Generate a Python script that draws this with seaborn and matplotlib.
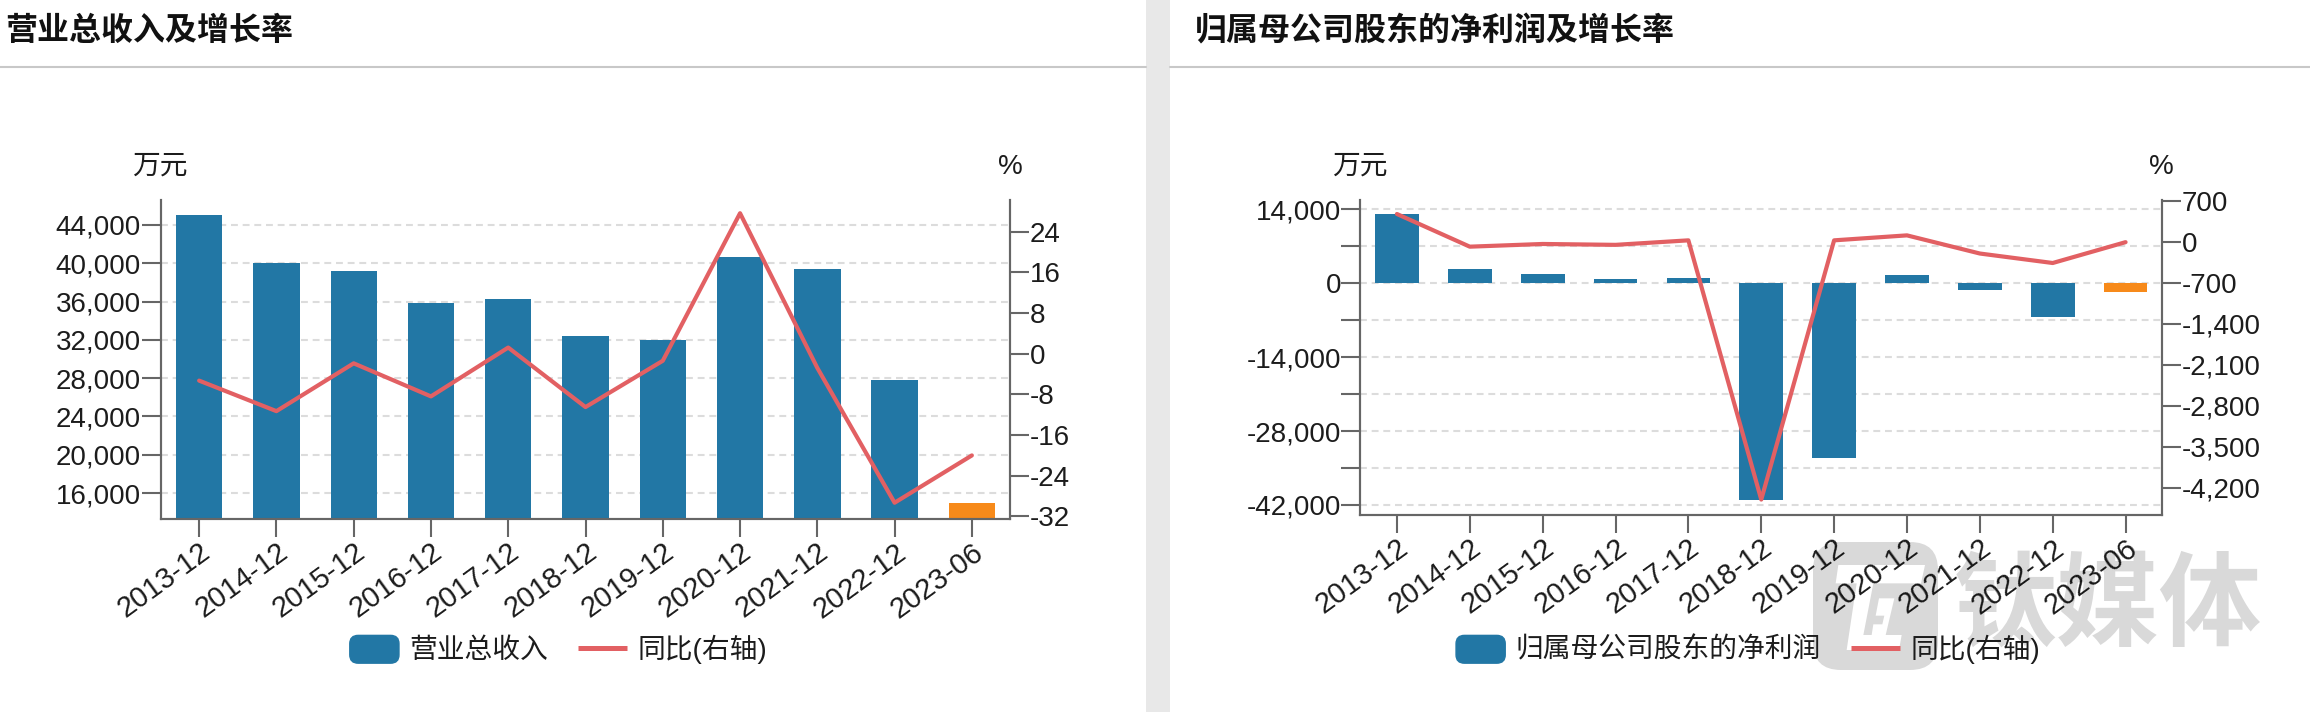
import numpy as np
import seaborn as sns
import matplotlib
matplotlib.use("Agg")
import matplotlib.pyplot as plt
from matplotlib.legend_handler import HandlerPatch
from matplotlib.lines import Line2D
from matplotlib.patches import BoxStyle, FancyBboxPatch, PathPatch, Rectangle
from matplotlib.path import Path
from matplotlib.transforms import Affine2D

W, H = 2310, 712

periods = ["2013-12", "2014-12", "2015-12", "2016-12", "2017-12", "2018-12",
           "2019-12", "2020-12", "2021-12", "2022-12", "2023-06"]

revenue = [45090, 40000, 39150, 35830, 36260, 32380, 31950, 40620, 39390, 27830, 14950]
revenue_yoy = [-5.3, -11.3, -1.9, -8.4, 1.2, -10.5, -1.4, 27.6, -2.8, -29.3, -20.0]
revenue_ticks = [16000, 20000, 24000, 28000, 32000, 36000, 40000, 44000]
revenue_yoy_ticks = [-32, -24, -16, -8, 0, 8, 16, 24]

profit = [13055, 2660, 1720, 860, 1030, -40970, -33150, 1460, -1370, -6440, -1720]
profit_yoy = [477, -81, -35, -50, 27, -4400, 27, 112, -198, -360, -4]
profit_ticks = [-42000, -35000, -28000, -21000, -14000, -7000, 0, 7000, 14000]
profit_labels = ["-42,000", "", "-28,000", "", "-14,000", "", "0", "", "14,000"]
profit_yoy_ticks = [-4200, -3500, -2800, -2100, -1400, -700, 0, 700]

BLUE = "#2277a5"
ORANGE = "#f78a1a"
RED = "#e26063"
AXIS = "#666666"
TEXT = "#1c1c1c"

sns.set_theme(style="white")
plt.rcParams["font.family"] = ["Liberation Sans", "Noto Sans CJK SC", "DejaVu Sans"]
plt.rcParams["axes.unicode_minus"] = False

fig = plt.figure(figsize=(W / 100, H / 100), dpi=100, facecolor="white")
px = Affine2D().scale(1 / W, -1 / H).translate(0, 1) + fig.transFigure


def make_round_handle(legend, orig_handle, xdescent, ydescent, width, height, fontsize):
    return FancyBboxPatch((-xdescent, -ydescent - 4), width, 20, mutation_scale=1,
                          boxstyle="round,pad=0,rounding_size=6")


def draw_panel(box, left_lim, right_lim, bars, yoy, left_ticks, left_labels, right_ticks,
               bar_name, legend_x, unit_x, pct_x):
    x0, y0, x1, y1 = box
    ax = fig.add_axes([x0 / W, 1 - y1 / H, (x1 - x0) / W, (y1 - y0) / H])

    colors = [BLUE] * (len(periods) - 1) + [ORANGE]
    sns.barplot(x=periods, y=bars, hue=periods, palette=colors, legend=False,
                width=0.6, saturation=1, linewidth=0, dodge=False, ax=ax)
    ax.set_ylim(*left_lim)
    ax.set_yticks(left_ticks)
    ax.set_yticklabels(left_labels)
    ax.set_axisbelow(True)
    ax.grid(axis="y", color="#dcdcdc", linewidth=1.5, linestyle=(0, (3.3, 2.3)))
    ax.grid(axis="x", visible=False)

    ax2 = ax.twinx()
    sns.lineplot(x=np.arange(len(periods)), y=yoy, color=RED, linewidth=3, ax=ax2)
    ax.set_xlim(-0.5, len(periods) - 0.5)
    ax2.set_ylim(*right_lim)
    ax2.set_yticks(right_ticks)
    ax2.set_yticklabels([f"{v:,}" for v in right_ticks])
    ax2.grid(False)

    for a in (ax, ax2):
        for name in ("left", "right", "bottom"):
            a.spines[name].set_color(AXIS)
            a.spines[name].set_linewidth(1.5)
        a.spines["top"].set_visible(False)
    ax.tick_params(axis="y", length=14, width=1.5, color=AXIS, pad=0, labelsize=20,
                   labelcolor=TEXT, left=True)
    ax2.tick_params(axis="y", length=14, width=1.5, color=AXIS, pad=0, labelsize=20,
                    labelcolor=TEXT, right=True)
    ax.tick_params(axis="x", length=13, width=1.5, color=AXIS, pad=1, labelsize=21,
                   labelcolor=TEXT, bottom=True)
    plt.setp(ax.get_xticklabels(), rotation=36, ha="right", va="top", rotation_mode="anchor")
    ax.set_xlabel("")

    fig.text(unit_x, 167, "万元", transform=px, fontsize=20, color=TEXT, ha="center", va="center")
    fig.text(pct_x, 167, "%", transform=px, fontsize=20, color=TEXT, ha="center", va="center")

    handles = [Rectangle((0, 0), 1, 1, color=BLUE),
               Line2D([0], [0], color=RED, linewidth=3.6, solid_capstyle="butt")]
    fig.legend(handles, [bar_name, "同比(右轴)"], ncol=2, frameon=False, fontsize=20,
               loc="center", bbox_to_anchor=(legend_x, 649), bbox_transform=px,
               labelcolor=TEXT, borderpad=0, borderaxespad=0, handlelength=1.77,
               handletextpad=0.37, columnspacing=1.08,
               handler_map={Rectangle: HandlerPatch(patch_func=make_round_handle)})


draw_panel((160.5, 200, 1010.5, 518.5), (13347, 46606), (-32.4, 30.2),
           revenue, revenue_yoy, revenue_ticks, [f"{v:,}" for v in revenue_ticks],
           revenue_yoy_ticks, "营业总收入", 558.5, 160, 1010)
draw_panel((1360.5, 200, 2162, 514.5), (-43800, 15720), (-4655, 716),
           profit, profit_yoy, profit_ticks, profit_labels,
           profit_yoy_ticks, "归属母公司股东的净利润", 1748, 1360, 2161)

# page furniture: header rules, grey gutter, titles
for start, end in ((0, 1146), (1170, W)):
    fig.add_artist(Line2D([start, end], [67, 67], transform=px, color="#c8c8c8", linewidth=1.5))
fig.add_artist(Rectangle((1146, 0), 24, H, transform=px, color="#e8e8e8", linewidth=0))
title_font = dict(transform=px, fontsize=23, fontweight="bold", color="#111111", va="center")
fig.text(5, 32, "营业总收入及增长率", **title_font)
fig.text(1195, 32, "归属母公司股东的净利润及增长率", **title_font)

# watermark: rounded square with the glyph cut out, then the wordmark
glyph = [
    [(100, 90), (360, 90), (348, 145), (92, 145)],
    [(155, 145), (205, 145), (175, 300), (290, 300), (282, 345), (125, 345)],
    [(222, 190), (268, 190), (242, 300), (200, 300), (205, 268), (232, 268), (238, 242), (212, 242)],
]
outer = BoxStyle.Round(pad=0, rounding_size=28)(1813, 542, 125, 128, 1.0)
holes = [Path([(1805 + a / 3, 535 + b / 3) for a, b in poly[::-1]] + [(0, 0)], closed=True)
         for poly in glyph]
fig.add_artist(PathPatch(Path.make_compound_path(outer, *holes), transform=px,
                         facecolor="black", edgecolor="none", alpha=0.15, zorder=5))
fig.text(2108, 611, "钛媒体", transform=px, fontsize=74, fontweight="bold", color="black",
         alpha=0.15, ha="center", va="center", zorder=5)

fig.savefig("out.png", dpi=100)
